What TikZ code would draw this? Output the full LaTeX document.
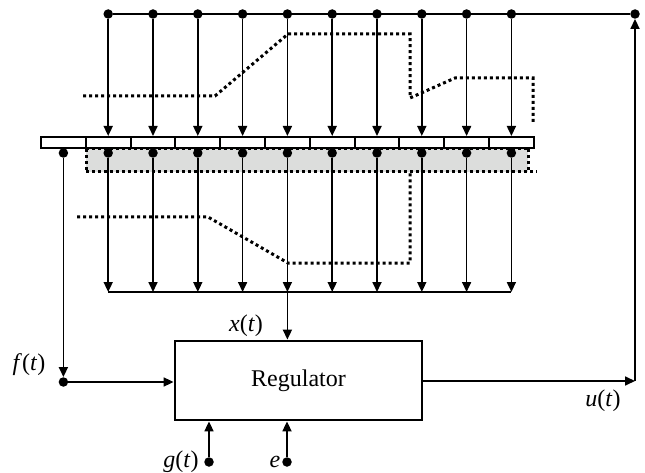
\documentclass[tikz,border=0pt]{standalone}
\usepackage{fontspec}
\setmainfont{Liberation Serif}
\usetikzlibrary{arrows.meta}
\definecolor{bandgray}{HTML}{DCDDDC}
\begin{document}
\begin{tikzpicture}[x=1pt,y=-1pt,
  wire/.style={line width=1.7pt},
  arr/.style={wire,-{Triangle[length=10pt,width=9pt]}},
  dot/.style={circle,fill=black,inner sep=0pt,minimum size=9.5pt},
  dotline/.style={line width=3pt,dash pattern=on 3pt off 3pt},
  cell/.style={draw,line width=2pt,fill=white,minimum width=44.8pt,minimum height=11pt,inner sep=0pt},
  lbl/.style={font=\fontsize{24}{28}\selectfont,inner sep=0pt},
  regbox/.style={draw,line width=2.8pt,minimum width=247pt,minimum height=79pt,inner sep=0pt,font=\fontsize{24}{28}\selectfont}
]
\useasboundingbox (0,0) rectangle (645,473);

% shaded band
\fill[bandgray] (86,149) rectangle (528,172);
\draw[dotline] (86,149) -- (528,149);
\draw[dotline] (86,149) -- (86,172);
\draw[dotline] (528,149) -- (528,172);
\draw[dotline] (86,172) -- (537,172);

% bar cells
\foreach \i in {0,...,10} {
  \node[cell] (c\i) at ({63.4+44.8*\i},142.5) {};
}

% upper dotted contour
\draw[dotline] (83,96) -- (215,96) -- (288,34) -- (410,34) -- (410,98) -- (455,78) -- (533,78) -- (533,122);
% lower dotted contour
\draw[dotline] (77,217) -- (208,217) -- (288,263) -- (410,263) -- (410,172);

% top bus
\node[dot] (tr) at (635,14) {};
\foreach \i in {1,...,10} {
  \node[dot] (t\i) at ({63.4+44.8*\i},14) {};
  \draw[arr] (t\i) -- (c\i.north);
}
\draw[wire] (t1) -- (tr);

% bottom dots and arrows
\foreach \i in {0,...,10} {
  \node[dot] (b\i) at ({63.4+44.8*\i},153) {};
}
\foreach \i in {1,...,10} {
  \coordinate (k\i) at ({63.4+44.8*\i},292);
  \draw[arr] (b\i) -- (k\i);
}
\draw[wire] (k1) -- (k10);

% regulator
\node[regbox] (reg) at (298.5,380.5) {Regulator};
\draw[arr] (k5) -- (k5 |- reg.north);

% f(t)
\node[dot] (fd) at (63.4,382) {};
\draw[arr] (b0) -- (fd);
\draw[arr] (fd) -- (fd -| reg.west);
\node[lbl] (fl) at (29,365) {\textit{f}(\textit{t})};

% output u(t)
\coordinate (corner) at (635,381);
\draw[arr] (reg.east |- corner) -- (corner);
\draw[arr] (corner) -- (tr);
\node[lbl] (ul) at (603,401) {\textit{u}(\textit{t})};

% x(t)
\node[lbl] (xl) at (246,326) {\textit{x}(\textit{t})};

% g(t), e
\node[dot] (gd) at (209,462) {};
\draw[arr] (gd) -- (gd |- reg.south);
\node[lbl] (gl) at (181,462) {\textit{g}(\textit{t})};
\node[dot] (ed) at (287,462) {};
\draw[arr] (ed) -- (ed |- reg.south);
\node[lbl] (el) at (275,462) {\textit{e}};
\end{tikzpicture}
\end{document}
